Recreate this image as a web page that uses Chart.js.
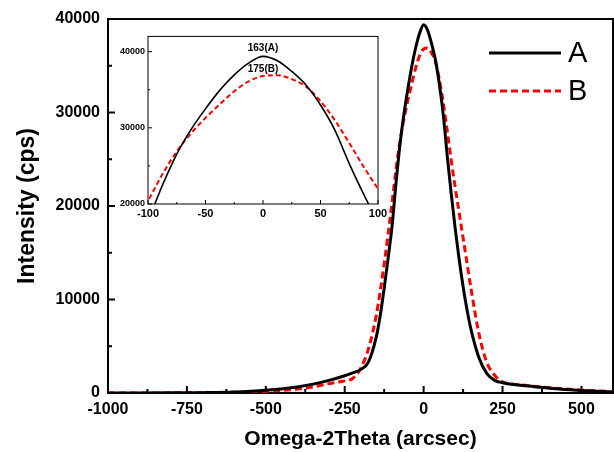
<!DOCTYPE html>
<html>
<head>
<meta charset="utf-8">
<script src="https://cdn.jsdelivr.net/npm/chart.js@4.4.0/dist/chart.umd.min.js"></script>
<style>
  html, body { margin: 0; padding: 0; background: #fff; }
  #wrap { position: relative; width: 614px; height: 452px; }
  #main { position: absolute; left: 0; top: 0; }
  #inset { position: absolute; left: 112px; top: 28px; }
</style>
</head>
<body>
<div id="wrap">
  <canvas id="main" width="614" height="452"></canvas>
  <canvas id="inset" width="280" height="195"></canvas>
</div>
<script>
// omega-2theta positions (arcsec)
const omega = [-1000, -900, -800, -700, -600, -500, -400, -350, -300, -250, -225, -200,
  -175, -150, -137.5, -125, -112.5, -100, -87.5, -75, -62.5, -50, -37.5, -25, -12.5, 0,
  12.5, 25, 37.5, 50, 62.5, 75, 87.5, 100, 112.5, 125, 137.5, 150, 175, 200, 225, 250,
  300, 350, 400, 450, 500, 550, 600];
// intensity (cps), sample A
const intensityA = [0, 5, 15, 40, 110, 300, 650, 950, 1350, 1850, 2150, 2500,
  3300, 6000, 8300, 11200, 14400, 17850, 22450, 26550, 29800, 32500, 34950, 36950, 38500, 39380,
  38800, 37400, 35600, 33000, 29700, 25300, 21300, 17600, 14300, 11400, 8900, 6800, 3800, 2100, 1350, 1100,
  850, 680, 500, 370, 260, 180, 120];
// intensity (cps), sample B
const intensityB = [0, 5, 12, 30, 70, 180, 420, 650, 1000, 1300, 1550, 2600,
  4700, 8300, 10900, 13800, 17000, 20400, 23900, 26900, 29300, 31300, 33100, 34800, 36100, 36800,
  36900, 36400, 35400, 33500, 31000, 28000, 24900, 22000, 19300, 16600, 13900, 11200, 6400, 3300, 1900, 1200,
  900, 720, 560, 430, 320, 220, 150];

const seriesNames = ['A', 'B'];
const peakNotes = ['163(A)', '175(B)'];
const xTicks = [-1000, -750, -500, -250, 0, 250, 500];
const yTicks = [0, 10000, 20000, 30000, 40000];
const insetXTicks = [-100, -50, 0, 50, 100];
const insetYTicks = [20000, 30000, 40000];

const FONT = "'Liberation Sans', Arial, sans-serif";

const pts = (ys) => omega.map((x, i) => ({x: x, y: ys[i]}));
const plain = (v) => String(v);

// box around the plot + inward ticks
const frameTicks = {
  id: 'frameTicks',
  beforeDatasetsDraw(chart, args, o) {
    const {ctx, chartArea: a, scales: {x, y}} = chart;
    ctx.save();
    ctx.strokeStyle = '#000';
    ctx.lineWidth = o.tickWidth;
    for (let v = x.min; v <= x.max + 1e-6; v += o.xMinor) {
      const px = x.getPixelForValue(v);
      const len = Math.abs(v % o.xMajor) < 1e-6 ? o.major : o.minor;
      ctx.beginPath(); ctx.moveTo(px, a.bottom); ctx.lineTo(px, a.bottom - len); ctx.stroke();
    }
    for (let v = y.min; v <= y.max + 1e-6; v += o.yMinor) {
      const py = y.getPixelForValue(v);
      const len = Math.abs(v % o.yMajor) < 1e-6 ? o.major : o.minor;
      ctx.beginPath(); ctx.moveTo(a.left, py); ctx.lineTo(a.left + len, py); ctx.stroke();
    }
    ctx.lineWidth = o.frameWidth;
    ctx.strokeRect(a.left, a.top, a.right - a.left, a.bottom - a.top);
    ctx.restore();
  }
};

// hand drawn legend (line sample + letter)
const sideLegend = {
  id: 'sideLegend',
  afterDraw(chart, args, o) {
    const ctx = chart.ctx;
    ctx.save();
    chart.data.datasets.forEach((ds, i) => {
      const yy = o.top + i * o.gap;
      ctx.strokeStyle = ds.borderColor;
      ctx.lineWidth = ds.borderWidth;
      ctx.setLineDash(ds.borderDash || []);
      ctx.beginPath(); ctx.moveTo(o.left, yy); ctx.lineTo(o.left + o.len, yy); ctx.stroke();
      ctx.setLineDash([]);
      ctx.fillStyle = '#000';
      ctx.font = o.font;
      ctx.textBaseline = 'middle';
      ctx.fillText(ds.label, o.left + o.len + 7, yy + 1);
    });
    ctx.restore();
  }
};

// small labels in the inset
const peakLabels = {
  id: 'peakLabels',
  afterDraw(chart, args, o) {
    const {ctx, scales: {x, y}} = chart;
    ctx.save();
    ctx.fillStyle = '#000';
    ctx.font = o.font;
    ctx.textAlign = 'center';
    ctx.textBaseline = 'middle';
    o.items.forEach((it, i) => ctx.fillText(peakNotes[i], x.getPixelForValue(it.x), y.getPixelForValue(it.y)));
    ctx.restore();
  }
};

new Chart(document.getElementById('main').getContext('2d'), {
  type: 'line',
  data: {
    datasets: [{
      label: seriesNames[0],
      data: pts(intensityA),
      borderColor: '#000',
      borderWidth: 3,
      pointRadius: 0,
      cubicInterpolationMode: 'monotone'
    }, {
      label: seriesNames[1],
      data: pts(intensityB),
      borderColor: '#ff0000',
      borderWidth: 3,
      borderDash: [7, 4],
      pointRadius: 0,
      cubicInterpolationMode: 'monotone'
    }]
  },
  options: {
    responsive: false,
    animation: false,
    devicePixelRatio: 1,
    layout: { padding: { top: 19, right: 1, left: 0, bottom: 0 } },
    scales: {
      x: {
        type: 'linear',
        min: -1000,
        max: 600,
        afterBuildTicks: (s) => { s.ticks = xTicks.map(v => ({value: v})); },
        afterFit: (s) => { s.height = 59; },
        grid: { display: false, drawTicks: false },
        border: { display: false },
        ticks: { color: '#000', padding: 7, callback: plain, font: { family: FONT, size: 16, weight: 'bold' }, maxRotation: 0 },
        title: { display: true, text: 'Omega-2Theta (arcsec)', color: '#000',
                 padding: { top: 0, bottom: 0 }, font: { family: FONT, size: 21, weight: 'bold' } }
      },
      y: {
        min: 0,
        max: 40000,
        afterBuildTicks: (s) => { s.ticks = yTicks.map(v => ({value: v})); },
        afterFit: (s) => { s.width = 108; },
        grid: { display: false, drawTicks: false },
        border: { display: false },
        ticks: { color: '#000', padding: 8, callback: plain, font: { family: FONT, size: 16, weight: 'bold' } },
        title: { display: true, text: 'Intensity (cps)', color: '#000',
                 padding: { top: 14, bottom: 0 }, font: { family: FONT, size: 23, weight: 'bold' } }
      }
    },
    plugins: {
      legend: { display: false },
      tooltip: { enabled: false },
      frameTicks: { frameWidth: 2, tickWidth: 2, major: 7, minor: 4, xMinor: 125, xMajor: 250, yMinor: 5000, yMajor: 10000 },
      sideLegend: { left: 489, top: 53, gap: 38, len: 72, font: '29px ' + FONT }
    }
  },
  plugins: [frameTicks, sideLegend]
});

new Chart(document.getElementById('inset').getContext('2d'), {
  type: 'line',
  data: {
    datasets: [{
      label: seriesNames[0],
      data: pts(intensityA),
      borderColor: '#000',
      borderWidth: 1.6,
      pointRadius: 0,
      cubicInterpolationMode: 'monotone'
    }, {
      label: seriesNames[1],
      data: pts(intensityB),
      borderColor: '#ff0000',
      borderWidth: 2,
      borderDash: [5, 3],
      pointRadius: 0,
      cubicInterpolationMode: 'monotone'
    }]
  },
  options: {
    responsive: false,
    animation: false,
    devicePixelRatio: 1,
    layout: { padding: { top: 7, right: 14, left: 0, bottom: 0 } },
    scales: {
      x: {
        type: 'linear',
        min: -100,
        max: 100,
        afterBuildTicks: (s) => { s.ticks = insetXTicks.map(v => ({value: v})); },
        afterFit: (s) => { s.height = 19; },
        grid: { display: false, drawTicks: false },
        border: { display: false },
        ticks: { color: '#000', padding: 3, callback: plain, font: { family: FONT, size: 11, weight: 'bold' }, maxRotation: 0 }
      },
      y: {
        min: 20000,
        max: 42000,
        afterBuildTicks: (s) => { s.ticks = insetYTicks.map(v => ({value: v})); },
        afterFit: (s) => { s.width = 36; },
        grid: { display: false, drawTicks: false },
        border: { display: false },
        ticks: { color: '#000', padding: 3, callback: plain, font: { family: FONT, size: 9, weight: 'bold' } }
      }
    },
    plugins: {
      legend: { display: false },
      tooltip: { enabled: false },
      frameTicks: { frameWidth: 1, tickWidth: 1, major: 4, minor: 2, xMinor: 25, xMajor: 50, yMinor: 5000, yMajor: 10000 },
      peakLabels: { font: 'bold 10px ' + FONT, items: [{x: 0, y: 40450}, {x: 0, y: 37700}] }
    }
  },
  plugins: [frameTicks, peakLabels]
});
</script>
</body>
</html>
